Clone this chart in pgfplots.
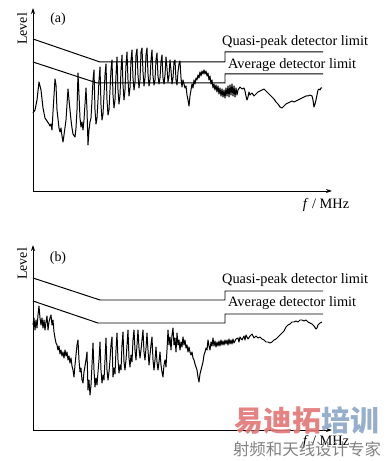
\documentclass[border=0pt]{standalone}
\usepackage{pgfplots}
\pgfplotsset{compat=1.18}
\usepackage{fontspec}
\setmainfont{Liberation Serif}
\newfontfamily\cjk{Noto Sans CJK SC}
\usetikzlibrary{arrows.meta}
\definecolor{wmred}{RGB}{226,118,118}
\definecolor{wmblue}{RGB}{140,165,200}
\definecolor{wmgrey}{RGB}{130,130,130}

\pgfplotstableread{
x y
33 348
35 351
37 361
39 379
41 371
43 353
45 343
47 340
49 337
50 335
51 337
52 331
53 349
55 382
56 376
57 351
59 333
60 329
61 333
62 325
63 319
64 326
66 341
68 372
69 361
71 341
72 333
73 327
75 324
76 333
77 351
78 388
79 366
80 343
81 334
82 339
83 331
84 341
86 373
87 351
88 316
89 331
90 339
91 343
92 361
93 381
94 391
95 351
96 337
97 343
98 361
99 381
100 394
101 356
102 341
103 347
104 366
105 386
106 397
107 361
108 346
109 351
110 371
111 391
112 401
113 366
114 353
115 361
116 386
117 404
118 371
119 357
120 366
121 391
122 406
123 376
124 361
125 371
126 396
127 409
128 381
129 365
130 373
131 401
132 411
133 383
134 371
135 379
136 406
137 412
138 386
139 373
140 381
141 409
142 413
143 389
144 375
145 383
146 406
147 413
148 387
149 375
150 381
151 401
152 411
153 385
154 376
155 381
156 401
157 408
158 385
159 377
160 383
161 399
162 406
163 383
164 377
165 386
166 404
167 393
168 379
169 385
170 401
171 391
172 377
173 383
174 399
175 401
176 381
177 376
178 389
179 397
180 400
181 383
182 374
183 381
184 377
185 373
186 375
187 366
188 361
189 355
190 365
191 371
192 377
193 373
194 381
195 377
196 383
197 381
198 386
199 383
200 389
201 385
202 390
203 387
204 391
205 387
206 390
207 385
208 388
209 381
210 385
211 377
212 381
213 373
214 377
215 371
216 376
217 369
218 375
219 367
220 373
221 365
222 372
223 364
224 371
225 363
226 373
227 365
228 375
229 364
230 376
231 366
232 377
233 365
234 375
235 364
236 373
237 366
238 371
240 374
242 372
244 373
245 370
246 365
247 361
248 364
249 369
250 366
252 368
254 365
256 367
258 369
260 370
262 371
264 372
266 370
268 368
270 366
272 364
274 362
276 359
278 357
280 354
282 353
284 355
286 357
288 358
290 359
292 360
294 359
296 360
298 361
300 362
302 363
304 364
306 365
308 365
310 366
312 365
313 361
314 354
315 357
316 361
317 366
318 371
319 372
320 371
321 373
322 373
}\specA

\pgfplotstableread{
x y
33 136
34 143
35 131
36 141
37 133
38 146
39 155
40 143
41 136
42 143
43 133
44 141
45 131
46 139
47 145
48 131
49 139
50 143
51 146
52 136
53 141
54 129
55 123
56 118
57 116
58 111
59 115
60 107
61 111
62 105
63 109
64 103
65 111
66 105
67 109
68 101
69 105
70 98
71 103
72 95
73 91
74 84
75 96
76 106
77 116
78 121
79 101
80 89
81 93
82 81
83 78
84 89
85 95
86 101
87 109
88 71
89 81
90 66
91 76
92 96
93 118
94 91
95 74
96 83
97 76
98 89
99 101
100 119
101 91
102 78
103 86
104 81
105 101
106 123
107 91
108 81
109 89
110 101
111 116
112 124
113 84
114 93
115 87
116 111
117 128
118 101
119 88
120 96
121 91
122 116
123 129
124 99
125 91
126 101
127 116
128 131
129 103
130 94
131 106
132 99
133 121
134 131
135 111
136 101
137 116
138 131
139 113
140 103
141 111
142 121
143 131
144 109
145 101
146 113
147 128
148 111
149 96
150 106
151 116
152 124
153 101
154 91
155 101
156 114
157 99
158 91
159 99
160 109
161 96
162 89
163 84
164 96
165 101
166 94
167 111
168 131
169 116
170 124
171 111
172 126
173 133
174 116
175 123
176 109
177 128
178 116
179 121
180 111
181 119
182 114
183 124
184 116
185 121
186 113
187 116
188 109
189 114
190 109
191 106
192 109
193 103
194 101
195 97
196 94
197 91
198 84
199 79
200 87
201 91
202 95
203 99
204 106
205 109
206 113
207 111
208 121
209 115
210 111
211 119
212 115
213 123
214 115
215 120
216 114
217 119
218 115
219 120
220 115
221 121
222 116
223 120
224 116
225 121
226 117
227 121
228 116
229 122
230 117
231 121
232 117
233 122
234 118
236 122
238 123
239 119
240 124
242 121
244 125
245 121
246 126
248 122
250 125
252 127
254 123
256 125
258 123
260 124
262 122
264 121
266 119
268 119
270 118
272 119
274 121
276 122
278 124
280 126
282 128
284 130
286 134
288 136
290 137
292 139
294 139
296 140
298 139
300 141
302 141
304 140
306 141
308 139
310 138
312 137
314 135
316 132
317 133
318 136
320 138
322 139
}\specB

\pgfplotsset{
  emcpanel/.style={
    x=1bp, y=1bp,
    anchor=south west,
    xmin=33, xmax=332,
    axis lines=left,
    axis line style={line width=0.9pt, -{Stealth[length=6pt,width=4pt]}},
    xtick=\empty, ytick=\empty,
    clip=false,
  },
}

\begin{document}
\begin{tikzpicture}
\useasboundingbox (0,0) rectangle (387bp,461bp);

% Panel (a)
\begin{axis}[emcpanel, at={(33bp,270bp)}, ymin=270, ymax=453]
\addplot[black, line width=1pt] coordinates {(33,422) (100,399) (225,399) (225,409) (323,409)};
\addplot[black, line width=1pt] coordinates {(33,399) (97,378) (225,378) (225,387) (323,387)};
\addplot[black, line width=1pt, line join=round] table[x=x,y=y] {\specA};
\node[anchor=center, font=\fontsize{14}{16}\selectfont] at (axis cs:58,442) {(a)};
\node[anchor=center, rotate=90, font=\fontsize{14}{16}\selectfont] at (axis cs:22,432) {Level};
\node[anchor=west, inner sep=0pt, font=\fontsize{14.4}{16}\selectfont] at (axis cs:222,419) {Quasi-peak detector limit};
\node[anchor=west, inner sep=0pt, font=\fontsize{14.4}{16}\selectfont] at (axis cs:228,396) {Average detector limit};
\node[anchor=center, font=\fontsize{14.4}{16}\selectfont] at (axis cs:326,256) {\textit{f} / MHz};
\end{axis}

% Panel (b)
\begin{axis}[emcpanel, at={(33bp,31bp)}, ymin=31, ymax=216]
\addplot[black, line width=1pt] coordinates {(33,183) (100,161) (225,161) (225,170) (323,170)};
\addplot[black, line width=1pt] coordinates {(33,160) (98,138) (225,138) (225,147) (323,147)};
\addplot[black, line width=1pt, line join=round] table[x=x,y=y] {\specB};
\node[anchor=center, font=\fontsize{14}{16}\selectfont] at (axis cs:58,203) {(b)};
\node[anchor=center, rotate=90, font=\fontsize{14}{16}\selectfont] at (axis cs:22,197) {Level};
\node[anchor=west, inner sep=0pt, font=\fontsize{14.4}{16}\selectfont] at (axis cs:222,181) {Quasi-peak detector limit};
\node[anchor=west, inner sep=0pt, font=\fontsize{14.4}{16}\selectfont] at (axis cs:228,158) {Average detector limit};
\node[anchor=center, font=\fontsize{14.4}{16}\selectfont] at (axis cs:326,19) {\textit{f} / MHz};
% watermark
\node[anchor=center, inner sep=0pt, opacity=0.9, font=\cjk\bfseries\fontsize{29}{30}\selectfont] at (axis cs:307,40) {\textcolor{wmred}{易迪拓}\textcolor{wmblue}{培训}};
\node[anchor=center, inner sep=0pt, text=wmgrey, font=\cjk\fontsize{16.5}{18}\selectfont] at (axis cs:307,12) {射频和天线设计专家};
\end{axis}
\end{tikzpicture}
\end{document}
